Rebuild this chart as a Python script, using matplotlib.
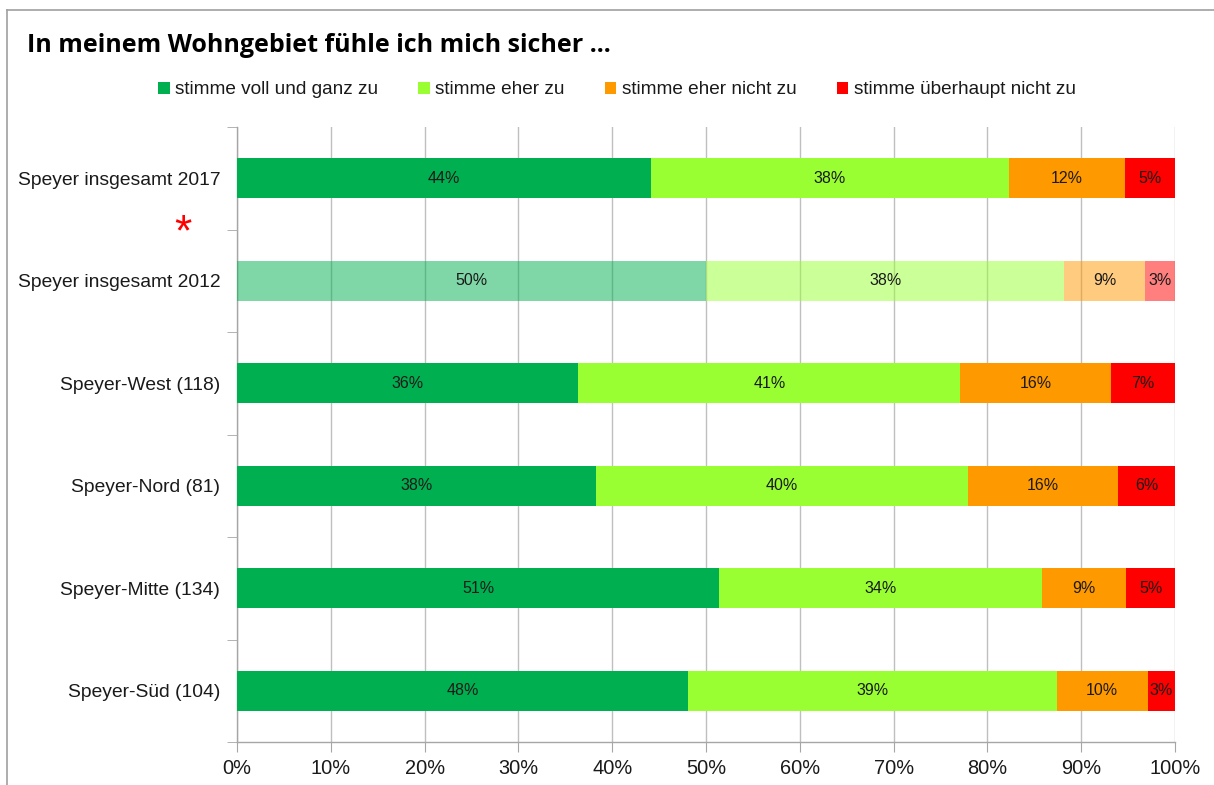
import matplotlib

matplotlib.use("Agg")
import matplotlib.pyplot as plt
from matplotlib.lines import Line2D
from matplotlib.patches import Patch

# survey shares (percent), rows top to bottom
ROWS = ["Speyer insgesamt 2017", "Speyer insgesamt 2012", "Speyer-West (118)",
        "Speyer-Nord (81)", "Speyer-Mitte (134)", "Speyer-Süd (104)"]
VOLL = [44.1, 50.0, 36.4, 38.3, 51.4, 48.1]
EHER = [38.2, 38.2, 40.7, 39.6, 34.4, 39.3]
EHER_NICHT = [12.4, 8.6, 16.1, 16.0, 9.0, 9.7]
GAR_NICHT = [5.3, 3.2, 6.8, 6.1, 5.2, 2.9]
SERIES = ["stimme voll und ganz zu", "stimme eher zu", "stimme eher nicht zu",
          "stimme überhaupt nicht zu"]
COLORS = ["#00B050", "#99FF33", "#FF9900", "#FF0000"]
FADED_ROW = 1  # 2012 comparison row drawn pale

plt.rcParams["font.family"] = ["Liberation Sans", "DejaVu Sans"]

fig = plt.figure(figsize=(12.14, 7.85), dpi=100)
ax = fig.add_axes([237 / 1214, 1 - 742 / 785, 938 / 1214, 615 / 785])

data = [VOLL, EHER, EHER_NICHT, GAR_NICHT]
ypos = list(range(len(ROWS)))
left = [0.0] * len(ROWS)
for vals, col in zip(data, COLORS):
    for i, v in enumerate(vals):
        alpha = 0.5 if i == FADED_ROW else 1.0
        ax.barh(i, v, left=left[i], height=0.39, color=col, alpha=alpha,
                edgecolor="none", zorder=3)
        ax.text(left[i] + v / 2, i, f"{v:.0f}%", ha="center", va="center",
                fontsize=11.5, color="#1a1a1a", zorder=4)
        left[i] += v

ax.set_xlim(0, 100)
ax.set_ylim(5.5, -0.5)
ax.set_xticks(range(0, 101, 10), [f"{t}%" for t in range(0, 101, 10)])
ax.set_yticks(ypos, ROWS)
ax.set_yticks([y - 0.5 for y in range(len(ROWS) + 1)], minor=True)
ax.tick_params(axis="y", which="major", length=0, pad=12, labelsize=13.9,
               labelcolor="#1a1a1a")
ax.tick_params(axis="y", which="minor", length=7, color="#A6A6A6")
ax.tick_params(axis="x", length=7, color="#A6A6A6", labelsize=14.4, pad=5,
               labelcolor="#1a1a1a")
ax.grid(axis="x", color="#BFBFBF", lw=1.0, zorder=0)
for s in ["top", "right"]:
    ax.spines[s].set_visible(False)
for s in ["left", "bottom"]:
    ax.spines[s].set_color("#A6A6A6")
    ax.spines[s].set_linewidth(1.0)

# red asterisk marking the comparison with 2012
fig.text(183 / 1214, 1 - 234 / 785, "*", color="#FF0000", fontsize=32,
         ha="center", va="center")

fig.text(27 / 1214, 1 - 45 / 785, "In meinem Wohngebiet fühle ich mich sicher ...",
         fontsize=18, fontweight="bold", family=["Open Sans", "DejaVu Sans"],
         va="center", ha="left")

handles = [Patch(facecolor=c, edgecolor="none") for c in COLORS]
fig.legend(handles, SERIES, loc="center", bbox_to_anchor=(617 / 1214, 1 - 90 / 785),
           ncol=4, frameon=False, fontsize=13.7, handlelength=0.6, handleheight=0.6,
           handletextpad=0.3, columnspacing=2.1, labelcolor="#1a1a1a")

# outer frame (left and top edges visible)
fig.add_artist(Line2D([7 / 1214, 7 / 1214], [0, 1 - 10 / 785], color="#A0A0A0", lw=1.2))
fig.add_artist(Line2D([7 / 1214, 1], [1 - 10 / 785, 1 - 10 / 785], color="#A0A0A0", lw=1.2))

fig.savefig("out.png", dpi=100)
